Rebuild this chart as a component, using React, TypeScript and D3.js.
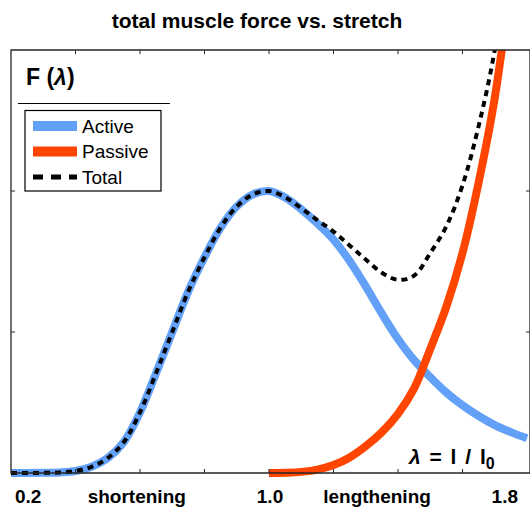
import React, { useEffect, useRef } from 'react';
import * as d3 from 'd3';

// stretch values (lambda = l / l0)
const lambdas = [0.2, 0.25, 0.3, 0.35, 0.4, 0.45, 0.5, 0.55, 0.6, 0.65, 0.7, 0.75, 0.8, 0.85, 0.9, 0.95, 1.0,
  1.05, 1.1, 1.15, 1.2, 1.25, 1.3, 1.35, 1.4, 1.45, 1.5, 1.55, 1.6, 1.65, 1.7, 1.75, 1.8];

const activeForce = [0, 0, 0.0005, 0.002, 0.007, 0.022, 0.053, 0.11, 0.215, 0.355, 0.5, 0.645, 0.765, 0.87, 0.945, 0.988, 1.0,
  0.977, 0.935, 0.885, 0.828, 0.752, 0.662, 0.565, 0.475, 0.4, 0.34, 0.285, 0.24, 0.202, 0.17, 0.145, 0.123];

const passiveLambdas = [1.0, 1.05, 1.1, 1.15, 1.2, 1.25, 1.3, 1.35, 1.4, 1.45, 1.5, 1.55, 1.6, 1.65, 1.7, 1.75];
const passiveForce = [0, 0.001, 0.004, 0.012, 0.028, 0.055, 0.095, 0.145, 0.21, 0.3, 0.44, 0.59, 0.78, 1.03, 1.33, 1.75];

const totalForce = [0, 0, 0.0005, 0.002, 0.007, 0.022, 0.053, 0.11, 0.215, 0.355, 0.5, 0.645, 0.765, 0.87, 0.945, 0.988, 1.0,
  0.978, 0.939, 0.897, 0.856, 0.807, 0.757, 0.71, 0.685, 0.7, 0.78, 0.875, 1.02, 1.23, 1.5, 1.9, 2.4];

const xTicks = [0.4, 0.6, 0.8, 1.0, 1.2, 1.4, 1.6];
const yTicks = [0.5, 1.0];

const bottomLabels = [
  { at: 0.2, text: '0.2', anchor: 'start', dx: 4 },
  { at: 0.59, text: 'shortening', anchor: 'middle', dx: 0 },
  { at: 1.0, text: '1.0', anchor: 'middle', dx: 1 },
  { at: 1.335, text: 'lengthening', anchor: 'middle', dx: 0 },
  { at: 1.8, text: '1.8', anchor: 'end', dx: -9 },
];

const legendItems = [
  { name: 'Active', color: '#62a1f7', dashed: false },
  { name: 'Passive', color: '#ff4500', dashed: false },
  { name: 'Total', color: '#000000', dashed: true },
];

const App = () => {
  const ref = useRef<SVGSVGElement | null>(null);

  useEffect(() => {
    if (!ref.current) return;
    const W = 530;
    const H = 509;
    const left = 11, top = 50, bottom = 473, right = 532;

    const svg = d3.select(ref.current);
    svg.selectAll('*').remove();
    svg.attr('width', W).attr('height', H);

    const x = d3.scaleLinear().domain([0.2, 1.8]).range([left, 527]);
    const y = d3.scaleLinear().domain([0, 1.5]).range([bottom, top]);

    const font = '"Liberation Sans", Arial, Helvetica, sans-serif';

    // title
    svg.append('text')
      .attr('x', 257).attr('y', 28)
      .attr('text-anchor', 'middle')
      .attr('font-family', font).attr('font-weight', 'bold').attr('font-size', 21)
      .text('total muscle force vs. stretch');

    svg.append('clipPath').attr('id', 'plotclip')
      .append('rect').attr('x', 0).attr('y', top).attr('width', W).attr('height', H - top);

    const plot = svg.append('g').attr('clip-path', 'url(#plotclip)');

    const line = d3.line<[number, number]>()
      .x(d => x(d[0]))
      .y(d => y(d[1]))
      .curve(d3.curveCatmullRom.alpha(0.5));

    const activePts = lambdas.map((l, i) => [l, activeForce[i]] as [number, number]);
    const passivePts = passiveLambdas.map((l, i) => [l, passiveForce[i]] as [number, number]);
    const totalPts = lambdas.map((l, i) => [l, totalForce[i]] as [number, number]);

    plot.append('path').datum(activePts)
      .attr('d', line).attr('fill', 'none')
      .attr('stroke', legendItems[0].color).attr('stroke-width', 8);

    plot.append('path').datum(passivePts)
      .attr('d', line).attr('fill', 'none')
      .attr('stroke', legendItems[1].color).attr('stroke-width', 8);

    plot.append('path').datum(totalPts)
      .attr('d', line).attr('fill', 'none')
      .attr('stroke', '#000').attr('stroke-width', 4)
      .attr('stroke-dasharray', '6,5');

    // frame
    const axisColor = '#262626';
    svg.append('path')
      .attr('d', `M${right},${top}H${left}V${bottom}H${right}`)
      .attr('fill', 'none').attr('stroke', axisColor).attr('stroke-width', 1.3);
    svg.append('line')
      .attr('x1', 530).attr('x2', 530).attr('y1', top).attr('y2', bottom)
      .attr('stroke', axisColor).attr('stroke-width', 1.3);

    // ticks
    xTicks.forEach(t => {
      svg.append('line').attr('x1', x(t)).attr('x2', x(t)).attr('y1', top).attr('y2', top + 4)
        .attr('stroke', axisColor).attr('stroke-width', 1);
      svg.append('line').attr('x1', x(t)).attr('x2', x(t)).attr('y1', bottom).attr('y2', bottom - 4)
        .attr('stroke', axisColor).attr('stroke-width', 1);
    });
    yTicks.forEach(t => {
      svg.append('line').attr('x1', left).attr('x2', left + 4).attr('y1', y(t)).attr('y2', y(t))
        .attr('stroke', axisColor).attr('stroke-width', 1);
      svg.append('line').attr('x1', 530).attr('x2', 526).attr('y1', y(t)).attr('y2', y(t))
        .attr('stroke', axisColor).attr('stroke-width', 1);
    });

    // bottom labels
    bottomLabels.forEach(b => {
      svg.append('text')
        .attr('x', x(b.at) + b.dx).attr('y', 503)
        .attr('text-anchor', b.anchor)
        .attr('font-family', font).attr('font-weight', 'bold').attr('font-size', 19)
        .text(b.text);
    });

    // lambda definition
    const lam = svg.append('text')
      .attr('x', 409).attr('y', 464)
      .attr('font-family', font).attr('font-weight', 'bold').attr('font-size', 21)
      .attr('word-spacing', 3);
    lam.append('tspan').attr('font-style', 'italic').text('λ');
    lam.append('tspan').text(' = l / l');
    lam.append('tspan').attr('font-size', 16).attr('dy', 5).text('0');

    // F(lambda) label
    const fl = svg.append('text')
      .attr('x', 26).attr('y', 85)
      .attr('font-family', font).attr('font-weight', 'bold').attr('font-size', 23);
    fl.append('tspan').text('F (');
    fl.append('tspan').attr('font-style', 'italic').text('λ');
    fl.append('tspan').text(')');

    svg.append('line').attr('x1', 18).attr('x2', 170).attr('y1', 103.5).attr('y2', 103.5)
      .attr('stroke', '#000').attr('stroke-width', 1);

    // legend
    const lg = svg.append('g');
    lg.append('rect').attr('x', 25).attr('y', 110.5).attr('width', 136).attr('height', 80.5)
      .attr('fill', '#fff').attr('stroke', '#000').attr('stroke-width', 1.2);
    legendItems.forEach((item, i) => {
      const ly = 126 + i * 25.5;
      lg.append('line').attr('x1', 33).attr('x2', 77).attr('y1', ly).attr('y2', ly)
        .attr('stroke', item.color).attr('stroke-width', item.dashed ? 5 : 10)
        .attr('stroke-dasharray', item.dashed ? '10,8' : null);
      lg.append('text').attr('x', 82).attr('y', ly + 6.5)
        .attr('font-family', font).attr('font-size', 19)
        .text(item.name);
    });
  }, []);

  return (
    <svg ref={ref} style={{ position: 'absolute', left: 0, top: 0, display: 'block' }} />
  );
};

export default App;
